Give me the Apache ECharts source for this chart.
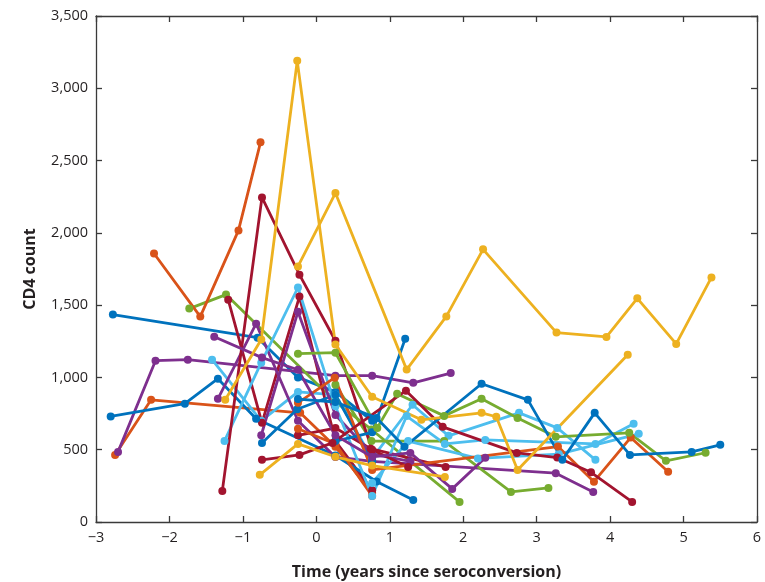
<!DOCTYPE html>
<html>
<head>
<meta charset="utf-8">
<script src="https://cdn.jsdelivr.net/npm/echarts@6/dist/echarts.min.js"></script>
<style>html,body{margin:0;padding:0;background:#fff}#c{width:765px;height:582px}</style>
</head>
<body>
<div id="c"></div>
<script>
// Tick labels / axis ranges
const xTicks = [-3, -2, -1, 0, 1, 2, 3, 4, 5, 6];
const yTicks = [0, 500, 1000, 1500, 2000, 2500, 3000, 3500];

// Subject trajectories: [time (years since seroconversion), CD4 count]
const yellow1 = [[-0.25,1768],[0.26,2275],[1.23,1054],[1.77,1422],[2.27,1886],[3.27,1310],[3.95,1280],[4.37,1547],[4.9,1232],[5.38,1692]];
const yellow2 = [[-1.24,845],[-0.75,1262],[-0.26,3190],[0.26,1227],[0.76,866],[1.43,707],[2.25,755],[2.45,728],[2.74,360],[4.24,1157]];
const yellow3 = [[-0.77,326],[-0.25,540],[0.26,451],[0.76,390],[1.75,312]];
const orange1 = [[-2.21,1857],[-1.58,1421],[-1.06,2017],[-0.76,2626]];
const orange2 = [[-2.74,464],[-2.25,845],[-0.22,755],[0.26,520],[0.76,200]];
const orange3 = [[-0.25,824],[0.25,998],[0.76,360],[3.29,522],[3.78,279],[4.28,584],[4.79,348]];
const orange4 = [[-0.25,645],[0.26,540],[0.76,180]];
const blue1 = [[-2.77,1435],[-0.8,1275],[-0.25,1000],[0.26,900],[0.76,700]];
const blue2 = [[-2.8,730],[-1.79,818],[-1.34,991],[-0.82,714],[0.26,460],[0.82,280],[1.32,152]];
const blue3 = [[-0.74,547],[-0.26,780],[0.26,880],[0.76,420]];
const blue4 = [[-0.25,850],[0.26,830],[0.82,720],[1.2,520],[2.25,956],[2.88,845],[3.35,430],[3.79,755],[4.27,464],[5.11,485],[5.5,534]];
const blue5 = [[0.26,560],[0.76,620],[1.21,1268]];
const purple1 = [[-2.70,485],[-2.19,1116],[-1.75,1123],[0.26,1012],[0.76,1012],[1.32,963],[1.83,1030]];
const purple2 = [[-1.39,1282],[-0.74,1137],[-0.25,1053],[0.26,600],[0.76,450],[1.28,478],[1.85,229],[2.3,444]];
const purple3 = [[-1.34,852],[-0.82,1372],[-0.25,700],[0.26,450],[0.76,420],[3.26,338],[3.77,208]];
const purple4 = [[-0.75,600],[-0.25,1455],[0.26,740],[0.76,470],[1.28,420]];
const green1 = [[-1.73,1476],[-1.23,1573],[0.26,830],[0.75,640],[1.95,139]];
const green2 = [[-0.25,1164],[0.26,1171],[0.83,651],[1.1,887],[1.74,734],[2.25,852],[2.74,720],[3.26,589],[4.26,617],[4.76,423],[5.3,479]];
const green3 = [[0.26,950],[0.75,560],[1.74,560],[2.65,208],[3.16,236]];
const cyan1 = [[-1.25,561],[-0.75,1102],[-0.25,1622],[0.26,800],[0.76,180],[1.23,733],[1.75,540],[2.3,568],[3.8,540],[4.32,679]];
const cyan2 = [[-1.42,1123],[-0.75,700],[-0.25,900],[0.26,880],[0.76,440],[1.31,811],[1.8,596],[2.76,755],[3.28,651],[3.8,430]];
const cyan3 = [[0.76,270],[1.25,560],[2.2,440],[3.3,470],[4.39,610]];
const red1 = [[-1.28,215],[-0.74,2245],[-0.23,1711],[0.26,1254],[0.76,500],[1.25,380]];
const red2 = [[-1.2,1538],[-0.74,686],[-0.23,1559],[0.26,560],[0.76,220]];
const red3 = [[-0.74,430],[-0.23,464],[0.22,547],[1.22,908],[1.72,658],[2.73,478],[3.28,446],[3.74,344],[4.3,139]];
const red4 = [[-0.25,600],[0.26,650],[0.74,507],[1.76,381]];

const C = {blue:'#0072BD', orange:'#D95319', yellow:'#EDB120', purple:'#7E2F8E', green:'#77AC30', cyan:'#4DBEEE', red:'#A2142F'};
const subjects = [
  [blue1,C.blue],[orange2,C.orange],[purple1,C.purple],[green1,C.green],[cyan2,C.cyan],[red2,C.red],
  [blue2,C.blue],[orange1,C.orange],[purple3,C.purple],[green3,C.green],[cyan3,C.cyan],[red4,C.red],
  [blue3,C.blue],[orange4,C.orange],[purple4,C.purple],[cyan1,C.cyan],[red1,C.red],
  [blue5,C.blue],[orange3,C.orange],[purple2,C.purple],[green2,C.green],[red3,C.red],
  [blue4,C.blue],[yellow3,C.yellow],[yellow2,C.yellow],[yellow1,C.yellow]
];

const FONT = '"Open Sans", "Noto Sans", sans-serif';
const axisLineStyle = {color:'#3a3a3a', width:1.3};
const chart = echarts.init(document.getElementById('c'));
const fmtNum = v => v.toLocaleString('en-US');
const fmtX = v => (v < 0 ? '\u2212' + Math.abs(v) : String(v));

chart.setOption({
  animation:false,
  backgroundColor:'#fff',
  grid:{left:96, right:8, top:16, bottom:60, containLabel:false, outerBoundsMode:'none'},
  xAxis:[{
    type:'value', min:xTicks[0], max:xTicks[xTicks.length-1], interval:1,
    name:'Time (years since seroconversion)', nameLocation:'middle', nameGap:42,
    nameTextStyle:{fontFamily:FONT, fontWeight:'bold', fontSize:16, color:'#231f20'},
    axisLine:{show:true, onZero:false, lineStyle:axisLineStyle},
    axisTick:{show:true, inside:true, length:6, lineStyle:axisLineStyle},
    axisLabel:{fontFamily:FONT, fontSize:14.5, color:'#231f20', margin:8, formatter:fmtX},
    splitLine:{show:false}
  },{
    type:'value', position:'top', min:xTicks[0], max:xTicks[xTicks.length-1], interval:1,
    axisLine:{show:true, onZero:false, lineStyle:axisLineStyle},
    axisTick:{show:true, inside:true, length:6, lineStyle:axisLineStyle},
    axisLabel:{show:false}, splitLine:{show:false}
  }],
  yAxis:[{
    type:'value', min:yTicks[0], max:yTicks[yTicks.length-1], interval:500,
    name:'CD4 count', nameLocation:'middle', nameGap:58,
    nameTextStyle:{fontFamily:FONT, fontWeight:'bold', fontSize:16, color:'#231f20'},
    axisLine:{show:true, onZero:false, lineStyle:axisLineStyle},
    axisTick:{show:true, inside:true, length:6, lineStyle:axisLineStyle},
    axisLabel:{fontFamily:FONT, fontSize:14.5, color:'#231f20', margin:8, formatter:fmtNum},
    splitLine:{show:false}
  },{
    type:'value', position:'right', min:yTicks[0], max:yTicks[yTicks.length-1], interval:500,
    axisLine:{show:true, onZero:false, lineStyle:axisLineStyle},
    axisTick:{show:true, inside:true, length:6, lineStyle:axisLineStyle},
    axisLabel:{show:false}, splitLine:{show:false}
  }],
  series: subjects.map(([d,col]) => ({
    type:'line', data:d, xAxisIndex:0, yAxisIndex:0,
    symbol:'circle', symbolSize:8, showSymbol:true,
    lineStyle:{color:col, width:2.8}, itemStyle:{color:col},
    emphasis:{disabled:true}, silent:true
  }))
});
</script>
</body>
</html>
